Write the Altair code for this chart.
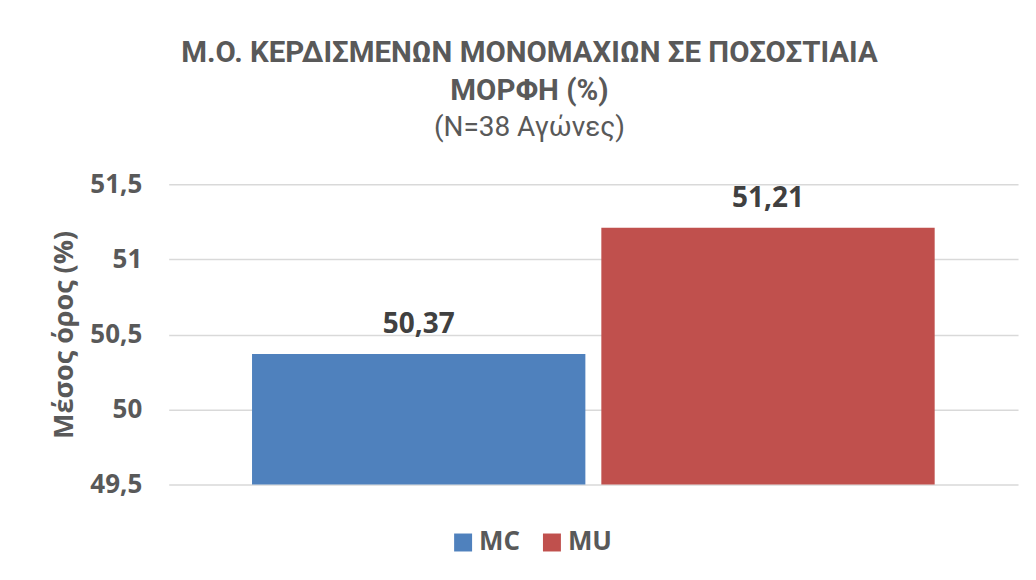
import altair as alt
import pandas as pd

series = ["MC", "MU"]
values = [50.37, 51.21]
value_labels = ["50,37", "51,21"]
colors = ["#4F81BD", "#C0504D"]
y_min, y_max = 49.5, 51.5
y_ticks = [49.5, 50, 50.5, 51, 51.5]

df = pd.DataFrame({"series": series, "value": values, "label": value_labels})

FONT = "Open Sans"
TFONT = "Roboto"

x = alt.X("series:N", sort=series, axis=None,
          scale=alt.Scale(paddingInner=0.0457, paddingOuter=0.2386))

y_axis = alt.Axis(values=y_ticks, title="Μέσος όρος (%)",
                  labelExpr="replace(format(datum.value, '~g'), '.', ',')",
                  ticks=False, domain=False, grid=True,
                  gridColor="#D9D9D9", gridWidth=1.5,
                  labelFont=FONT, labelFontSize=26, labelFontWeight="bold",
                  labelColor="#595959", labelPadding=27,
                  titleFont=FONT, titleFontSize=27, titleFontWeight="bold",
                  titleColor="#595959", titlePadding=11)
y_scale = alt.Scale(domain=[y_min, y_max], zero=False, nice=False)

base = alt.Chart(df)

bars = base.mark_bar().encode(
    x=x,
    y=alt.Y("value:Q", scale=y_scale, axis=y_axis),
    y2=alt.datum(y_min),
    color=alt.Color("series:N", sort=series,
                    scale=alt.Scale(domain=series, range=colors),
                    legend=alt.Legend(title=None, orient="none", direction="horizontal",
                                      legendX=282, legendY=346,
                                      symbolType="square", symbolSize=324,
                                      symbolStrokeWidth=0, labelOffset=3,
                                      columnPadding=18,
                                      labelFont=FONT, labelFontSize=26,
                                      labelFontWeight="bold", labelColor="#595959")),
)

labels = base.mark_text(dy=-21, fontSize=28, fontWeight="bold", font=FONT,
                        color="#404040", baseline="alphabetic").encode(
    x=x,
    y=alt.Y("value:Q", scale=y_scale, axis=y_axis),
    text="label:N",
)

chart = alt.layer(bars, labels, view=alt.ViewBackground(stroke=None, strokeWidth=0)).properties(
    width=851,
    height=301,
    padding={"left": 161, "top": 176, "right": 10, "bottom": 80},
    autosize=alt.AutoSizeParams(type="none"),
    title=alt.TitleParams(
        text=["Μ.Ο. ΚΕΡΔΙΣΜΕΝΩΝ ΜΟΝΟΜΑΧΙΩΝ ΣΕ ΠΟΣΟΣΤΙΑΙΑ", "ΜΟΡΦΗ (%)"],
        subtitle="(N=38 Αγώνες)",
        anchor="middle", dx=-64, offset=28,
        font=TFONT, fontSize=29.5, fontWeight="bold", color="#595959",
        lineHeight=38,
        subtitleFont=TFONT, subtitleFontSize=28, subtitleFontWeight="normal",
        subtitleColor="#595959", subtitlePadding=8,
    ),
).configure_view(stroke="transparent", strokeWidth=0).configure(background="white")

chart.save("out.html", embed_options={"renderer": "svg", "actions": False})
